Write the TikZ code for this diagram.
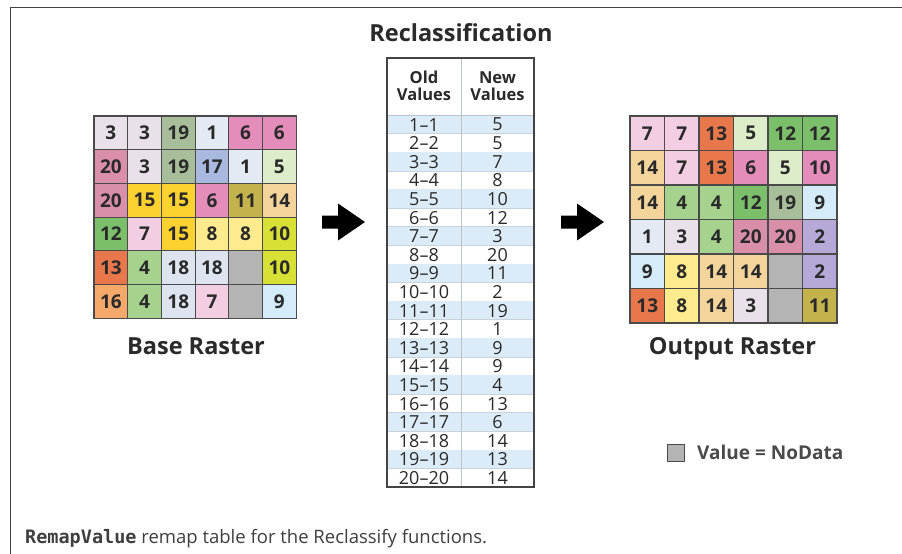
\documentclass[tikz,border=0pt]{standalone}
\usepackage{fontspec}
\setmainfont{Open Sans}
\newfontfamily\monobold{DejaVu Sans Mono}
\usetikzlibrary{calc}

% cell fills
\definecolor{cGrayPink}{HTML}{E9E1EA}
\definecolor{cSage}{HTML}{A8BE9B}
\definecolor{cIce}{HTML}{E4EAF4}
\definecolor{cPink}{HTML}{E58DBA}
\definecolor{cDusty}{HTML}{D98FAA}
\definecolor{cPeri}{HTML}{A9B8DE}
\definecolor{cMint}{HTML}{DDEDC9}
\definecolor{cGold}{HTML}{FDD12F}
\definecolor{cOlive}{HTML}{C4B24C}
\definecolor{cTan}{HTML}{F3D49B}
\definecolor{cGreen}{HTML}{7CBF6B}
\definecolor{cRose}{HTML}{F3CDE2}
\definecolor{cLemon}{HTML}{FDEB8E}
\definecolor{cLime}{HTML}{D7E034}
\definecolor{cOrange}{HTML}{E8784B}
\definecolor{cLeaf}{HTML}{A5D38D}
\definecolor{cMist}{HTML}{DDE3EF}
\definecolor{cPeach}{HTML}{F4A96B}
\definecolor{cSky}{HTML}{D4ECFA}
\definecolor{cLav}{HTML}{B6A9D8}
\definecolor{cNoData}{HTML}{B4B4B4}
% lines and text
\definecolor{gridline}{HTML}{4A4A4A}
\definecolor{inktext}{HTML}{2A2A2A}
\definecolor{rowblue}{HTML}{DCEBF8}
\definecolor{rowline}{HTML}{C9D3DD}
\definecolor{framegray}{HTML}{444444}

\tikzset{
  cellA/.style={draw=gridline, line width=1.1pt, minimum width=33.7pt, minimum height=33.7pt,
    inner sep=0pt, text=inktext, font=\bfseries\fontsize{19}{19}\selectfont},
  cellB/.style={cellA, minimum width=34.5pt, minimum height=34.5pt},
  label/.style={text=inktext, font=\bfseries\fontsize{23.5}{23.5}\selectfont, inner sep=0pt, anchor=base},
  rowtext/.style={text=inktext, font=\fontsize{18}{18}\selectfont, inner sep=0pt},
  headtext/.style={text=inktext, font=\bfseries\fontsize{16.5}{17}\selectfont, align=center, inner sep=0pt},
  blockarrow/.style={fill=black},
}

\begin{document}
\begin{tikzpicture}[x=1pt,y=-1pt]
\useasboundingbox (0,0) rectangle (902,554);
\fill[white] (0,0) rectangle (902,554);
% page frame (top and left edges)
\draw[framegray, line width=1.4pt] (10.5,554) -- (10.5,7.5) -- (902,7.5);

% ---- base raster ----
\foreach \v/\c [count=\k from 0] in {
  3/cGrayPink,3/cGrayPink,19/cSage,1/cIce,6/cPink,6/cPink,
  20/cDusty,3/cGrayPink,19/cSage,17/cPeri,1/cIce,5/cMint,
  20/cDusty,15/cGold,15/cGold,6/cPink,11/cOlive,14/cTan,
  12/cGreen,7/cRose,15/cGold,8/cLemon,8/cLemon,10/cLime,
  13/cOrange,4/cLeaf,18/cMist,18/cMist,{}/cNoData,10/cLime,
  16/cPeach,4/cLeaf,18/cMist,7/cRose,{}/cNoData,9/cSky}{
  \pgfmathtruncatemacro\r{div(\k,6)}
  \pgfmathtruncatemacro\cc{mod(\k,6)}
  \node[cellA, fill=\c] (b-\r-\cc) at ({94+33.7*(\cc+0.5)},{116+33.7*(\r+0.5)}) {\v};
}
\draw[gridline, line width=1.4pt] (94,116) rectangle ({94+6*33.7},{116+6*33.7});
\node[label] (baselabel) at (196,354.5) {Base Raster};

% ---- output raster ----
\foreach \v/\c [count=\k from 0] in {
  7/cRose,7/cRose,13/cOrange,5/cMint,12/cGreen,12/cGreen,
  14/cTan,7/cRose,13/cOrange,6/cPink,5/cMint,10/cPink,
  14/cTan,4/cLeaf,4/cLeaf,12/cGreen,19/cSage,9/cSky,
  1/cIce,3/cGrayPink,4/cLeaf,20/cDusty,20/cDusty,2/cLav,
  9/cSky,8/cLemon,14/cTan,14/cTan,{}/cNoData,2/cLav,
  13/cOrange,8/cLemon,14/cTan,3/cGrayPink,{}/cNoData,11/cOlive}{
  \pgfmathtruncatemacro\r{div(\k,6)}
  \pgfmathtruncatemacro\cc{mod(\k,6)}
  \node[cellB, fill=\c] (o-\r-\cc) at ({630+34.5*(\cc+0.5)},{116+34.5*(\r+0.5)}) {\v};
}
\draw[gridline, line width=1.4pt] (630,116) rectangle ({630+6*34.5},{116+6*34.5});
\node[label] (outlabel) at (732.5,354.5) {Output Raster};

% ---- reclassification table ----
\node[label] (title) at (461,41.5) {Reclassification};
\foreach \o/\n [count=\i from 0] in {
  1--1/5,2--2/5,3--3/7,4--4/8,5--5/10,6--6/12,7--7/3,8--8/20,9--9/11,10--10/2,
  11--11/19,12--12/1,13--13/9,14--14/9,15--15/4,16--16/13,17--17/6,18--18/14,
  19--19/13,20--20/14}{
  \pgfmathsetmacro\ytop{115+18.6*\i}
  \pgfmathtruncatemacro\odd{mod(\i,2)}
  \ifnum\odd=0 \fill[rowblue] (387,\ytop) rectangle (534,\ytop+18.6); \fi
  \draw[rowline, line width=0.5pt] (387,\ytop+18.6) -- (534,\ytop+18.6);
  \node[rowtext] (old-\i) at (424,\ytop+9.6) {\o};
  \node[rowtext] (new-\i) at (497.5,\ytop+9.6) {\n};
}
\draw[rowline!80!gray, line width=0.8pt] (387,115) -- (534,115);
\draw[rowline!80!gray, line width=0.9pt] (461,58) -- (461,487);
\node[headtext] (oldhead) at (424,86) {Old\\Values};
\node[headtext] (newhead) at (497.5,86) {New\\Values};
\draw[framegray, line width=1.4pt] (387,58) rectangle (534,487);

% ---- block arrows ----
\fill[blockarrow] (322,215.5) -- (338,215.5) -- (338,203.5) -- (365,222) -- (338,240.5)
  -- (338,228.5) -- (322,228.5) -- cycle;
\fill[blockarrow] (561,215.5) -- (577,215.5) -- (577,203.5) -- (604,222) -- (577,240.5)
  -- (577,228.5) -- (561,228.5) -- cycle;

% ---- legend ----
\node[draw=gridline, fill=cNoData, line width=1pt, minimum size=17pt, inner sep=0pt] (nodatabox) at (675.5,452.5) {};
\node[anchor=west, inner sep=0pt, text=inktext!85!white, font=\bfseries\fontsize{19}{19}\selectfont] (nodatatext) at (697,452.5) {Value = NoData};

% ---- caption ----
\node[anchor=base west, inner sep=0pt, text=inktext!90!white, font=\fontsize{18.5}{18.5}\selectfont] (caption) at (25,543)
  {{\monobold\bfseries RemapValue} remap table for the Reclassify functions.};
\end{tikzpicture}
\end{document}
